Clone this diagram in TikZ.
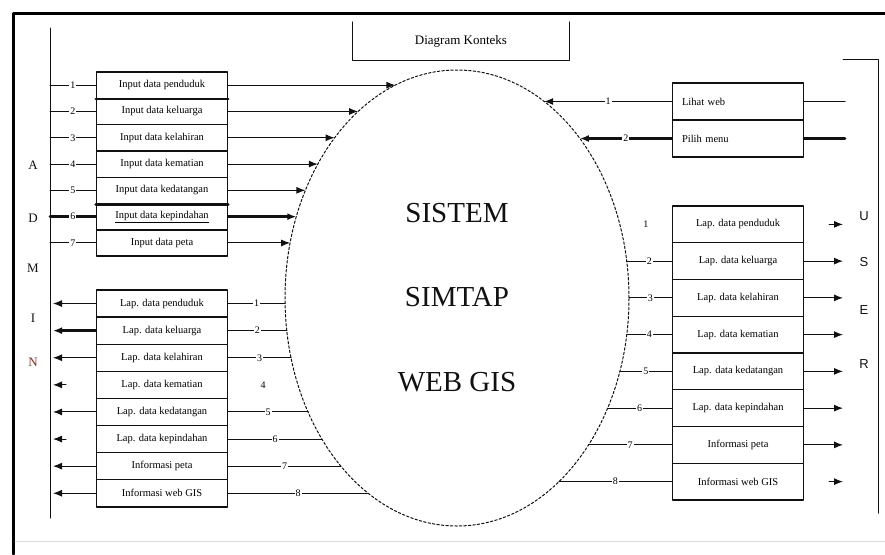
\documentclass[tikz,border=0pt]{standalone}
\usepackage{fontspec}
\setmainfont{Liberation Serif}
\setsansfont{Liberation Sans}
\usetikzlibrary{arrows.meta,calc,positioning,shapes.geometric}
\definecolor{ctxInk}{HTML}{111111}
\definecolor{ctxRed}{HTML}{8B2A1E}
\definecolor{ctxFaint}{HTML}{DADADA}

\begin{document}
\begin{tikzpicture}[x=1pt,y=-1pt,>={Latex[length=9pt,width=7pt]},line cap=round,line join=round]
\useasboundingbox (0,0) rectangle (885,554);
\tikzset{flow/.style={draw=ctxInk,line width=1pt},heavy/.style={draw=ctxInk,line width=2.8pt},nowire/.style={draw=none},rowbox/.style={draw=ctxInk,line width=1.4pt,minimum width=131pt,inner sep=0pt,font=\fontsize{10.5}{12}\selectfont},num/.style={fill=white,inner sep=1pt,font=\fontsize{10}{12}\selectfont},letter/.style={font=\fontsize{13}{15}\selectfont,text=ctxInk},bigtext/.style={font=\fontsize{29}{32}\selectfont,text=ctxInk}}
% frame
\draw[line width=3pt] (13,554) -- (13,13) -- (885,13);
\draw[ctxFaint,line width=0.8pt] (15,541) -- (885,541);
% title
\node[minimum width=217pt,minimum height=38pt,font=\fontsize{13}{15}\selectfont] (title) at (461,41) {Diagram Konteks};
\draw[flow] (title.north west) -- (title.south west) -- (title.south east) -- (title.north east);
% system process
\node[ellipse,draw=ctxInk,line width=1pt,dash pattern=on 2.5pt off 2pt,minimum width=344pt,minimum height=456pt,inner sep=0pt] (sys) at (457,298) {};
\node[bigtext] (sysA) at (457,213) {SISTEM};
\node[bigtext] (sysB) at (457,297) {SIMTAP};
\node[bigtext] (sysC) at (457,382) {WEB GIS};
% admin entity
\coordinate (admTop) at (50,28);
\coordinate (admBot) at (50,518);
\draw[flow] (admTop) -- (admBot);
\foreach \ch/\yy/\col in {A/165/ctxInk,D/218/ctxInk,M/268/ctxInk,I/318/ctxInk,N/362/ctxRed}
  \node[letter,text=\col] (adm\ch) at (33,\yy) {\ch};
% admin inputs
\foreach \lbl/\wire [count=\i] in {Input data penduduk/flow,Input data keluarga/flow,Input data kelahiran/flow,Input data kematian/flow,Input data kedatangan/flow,\underline{Input data kepindahan}/heavy,Input data peta/flow}{
  \pgfmathsetmacro\y{72+26.3*(\i-0.5)}
  \pgfmathsetmacro\xe{457-172*sqrt(1-((\y-298)/228)*((\y-298)/228))}
  \node[rowbox,minimum height=26.3pt] (in\i) at (162,\y) {\lbl};
  \coordinate (inTip\i) at (\xe,\y);
  \coordinate (admIn\i) at (50,\y);
  \draw[\wire] (admIn\i) -- (in\i.west) node[num,midway]{\i};
  \draw[\wire,->] (in\i.east) -- (inTip\i);
}
\draw[heavy] (in1.south west) -- (in1.south east);
\draw[heavy] (in5.south west) -- (in5.south east);
% admin reports
\foreach \lbl/\wire/\link [count=\i] in {Lap. data penduduk/flow/flow,Lap. data keluarga/heavy/flow,Lap. data kelahiran/flow/flow,Lap. data kematian/nowire/nowire,Lap. data kedatangan/flow/flow,Lap. data kepindahan/nowire/flow,Informasi peta/flow/flow,Informasi web GIS/flow/flow}{
  \pgfmathsetmacro\y{290+27.1*(\i-0.5)}
  \pgfmathsetmacro\xe{457-172*sqrt(1-((\y-298)/228)*((\y-298)/228))}
  \node[rowbox,minimum height=27.1pt] (lapA\i) at (162,\y) {\lbl};
  \coordinate (lapSrc\i) at (\xe,\y);
  \coordinate (admOut\i) at (53,\y);
  \draw[\link] (lapSrc\i) -- (lapA\i.east) node[num,midway]{\i};
  \draw[\wire,->] (lapA\i.west) -- (admOut\i);
}
\foreach \i in {4,6}{
  \coordinate (admStub\i) at (66,{290+27.1*(\i-0.5)});
  \draw[flow,->] (admStub\i) -- (admOut\i);
}
% user entity
\coordinate (usrTop) at (843,59);
\coordinate (usrCorner) at (878,59);
\coordinate (usrBot) at (878,513);
\draw[flow] (usrTop) -- (usrCorner) -- (usrBot);
\foreach \ch/\yy in {U/216,S/262,E/310,R/364}
  \node[letter,font=\sffamily\fontsize{13}{15}\selectfont] (usr\ch) at (864,\yy) {\ch};
% user inputs
\foreach \lbl/\wire [count=\i] in {Lihat web/flow,Pilih menu/heavy}{
  \pgfmathsetmacro\y{83+37*(\i-0.5)}
  \pgfmathsetmacro\xe{457+172*sqrt(1-((\y-298)/228)*((\y-298)/228))}
  \node[rowbox,minimum height=37pt,text width=112pt,align=left] (usrIn\i) at (738,\y) {\lbl};
  \coordinate (usrTip\i) at (\xe,\y);
  \coordinate (usrSrc\i) at (845,\y);
  \draw[\wire] (usrSrc\i) -- (usrIn\i.east);
  \draw[\wire,->] (usrIn\i.west) -- (usrTip\i) node[num,midway]{\i};
}
% user reports
\foreach \lbl/\link [count=\i] in {Lap. data penduduk/nowire,Lap. data keluarga/flow,Lap. data kelahiran/flow,Lap. data kematian/flow,Lap. data kedatangan/flow,Lap. data kepindahan/flow,Informasi peta/flow,Informasi web GIS/flow}{
  \pgfmathsetmacro\y{206+36.75*(\i-0.5)}
  \pgfmathsetmacro\xe{457+172*sqrt(1-((\y-298)/228)*((\y-298)/228))}
  \node[rowbox,minimum height=36.75pt] (lapB\i) at (738,\y) {\lbl};
  \coordinate (outSrc\i) at (\xe,\y);
  \coordinate (usrOut\i) at (843,\y);
  \draw[\link] (outSrc\i) -- (lapB\i.west) node[num,midway]{\i};
}
\foreach \i in {2,...,7}
  \draw[flow,->] (lapB\i.east) -- (usrOut\i);
\foreach \i in {1,8}{
  \coordinate (usrStub\i) at (829,{206+36.75*(\i-0.5)});
  \draw[flow,->] (usrStub\i) -- (usrOut\i);
}
\end{tikzpicture}
\end{document}
